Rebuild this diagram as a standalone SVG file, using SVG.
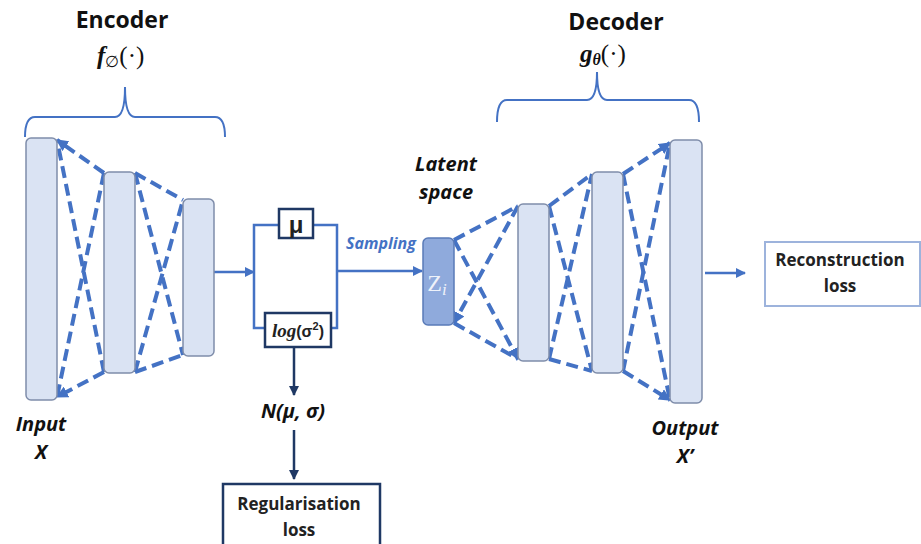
<svg xmlns="http://www.w3.org/2000/svg" width="921" height="544" viewBox="0 0 921 544">
<defs>
<style>
.layer{fill:#DAE3F3;stroke:#7F8DAA;stroke-width:1.5}
.dash{stroke:#4472C4;stroke-width:4;stroke-dasharray:12 6;fill:none}
.brace{stroke:#4472C4;stroke-width:2;fill:none}
.flow{stroke:#4472C4;stroke-width:2.5;fill:none}
.navy{stroke:#1F3864;stroke-width:2.5;fill:none}
.title{font-family:"Open Sans","Liberation Sans",sans-serif;font-weight:bold;font-size:23px;fill:#111;text-anchor:middle}
.lbl{font-family:"Open Sans","Liberation Sans",sans-serif;font-weight:bold;font-style:italic;font-size:20px;fill:#111;text-anchor:middle}
.box{font-family:"Open Sans","Liberation Sans",sans-serif;font-weight:bold;font-size:17px;fill:#222;text-anchor:middle}
.math{font-family:"Liberation Serif","DejaVu Serif",serif;font-size:25px;fill:#111}
</style>
<marker id="ab" viewBox="0 0 10 10" refX="9" refY="5" markerWidth="4" markerHeight="4" orient="auto"><path d="M0,0 L10,5 L0,10 z" fill="#4472C4"/></marker>
<marker id="an" viewBox="0 0 10 10" refX="9" refY="5" markerWidth="4" markerHeight="4" orient="auto"><path d="M0,0 L10,5 L0,10 z" fill="#1F3864"/></marker>
<marker id="ad" viewBox="0 0 10 10" refX="9" refY="5" markerWidth="3" markerHeight="3" orient="auto"><path d="M0,0 L10,5 L0,10 z" fill="#4472C4"/></marker>
</defs>
<rect width="921" height="544" fill="#fff"/>

<g id="encoder-title">
<text class="title" x="122" y="28">Encoder</text>
<text class="math" x="97" y="64"><tspan font-style="italic" font-weight="bold">f</tspan><tspan font-size="16" dy="3">∅</tspan><tspan dy="-3">(·)</tspan></text>
<path class="brace" d="M25,137 Q25,117 35,117 L115,117 Q125,117 125,87 Q125,117 135,117 L215,117 Q225,117 225,137"/>
</g>
<g id="decoder-title">
<text class="title" x="616" y="30">Decoder</text>
<text class="math" x="580" y="62"><tspan font-style="italic" font-weight="bold">g</tspan><tspan font-size="16" dy="3" font-style="italic" font-weight="bold">θ</tspan><tspan dy="-3">(·)</tspan></text>
<path class="brace" d="M497,122 Q497,100 507,100 L587,100 Q597,100 597,72 Q597,100 607,100 L689,100 Q699,100 699,122"/>
</g>

<g id="connectors">
<line class="dash" x1="104" y1="173" x2="57" y2="140" marker-end="url(#ad)"/>
<line class="dash" x1="104" y1="372" x2="57" y2="140"/>
<line class="dash" x1="104" y1="173" x2="57" y2="397"/>
<line class="dash" x1="104" y1="372" x2="57" y2="397" marker-end="url(#ad)"/>
<line class="dash" x1="135" y1="173" x2="183" y2="200"/>
<line class="dash" x1="135" y1="173" x2="183" y2="355"/>
<line class="dash" x1="135" y1="372" x2="183" y2="200"/>
<line class="dash" x1="135" y1="372" x2="183" y2="355"/>
<line class="dash" x1="454" y1="240" x2="518" y2="206"/>
<line class="dash" x1="454" y1="240" x2="518" y2="359" marker-end="url(#ad)"/>
<line class="dash" x1="518" y1="206" x2="454" y2="323" marker-end="url(#ad)"/>
<line class="dash" x1="454" y1="323" x2="518" y2="359"/>
<line class="dash" x1="549" y1="206" x2="592" y2="174"/>
<line class="dash" x1="549" y1="206" x2="592" y2="371"/>
<line class="dash" x1="549" y1="359" x2="592" y2="174"/>
<line class="dash" x1="549" y1="359" x2="592" y2="371"/>
<line class="dash" x1="623" y1="174" x2="670" y2="143" marker-end="url(#ad)"/>
<line class="dash" x1="623" y1="174" x2="670" y2="400"/>
<line class="dash" x1="623" y1="371" x2="670" y2="143"/>
<line class="dash" x1="623" y1="371" x2="670" y2="400" marker-end="url(#ad)"/>
<line class="flow" x1="214" y1="272" x2="254" y2="272" marker-end="url(#ab)"/>
<path class="flow" d="M279,225 L254,225 L254,328 L265,328"/>
<path class="flow" d="M313,225 L337,225 L337,328 L331,328"/>
<line class="flow" x1="337" y1="271" x2="422" y2="271" marker-end="url(#ab)"/>
<line class="flow" x1="705" y1="273" x2="745" y2="273" marker-end="url(#ab)"/>
<line class="navy" x1="294" y1="347" x2="294" y2="395" marker-end="url(#an)"/>
<line class="navy" x1="294" y1="430" x2="294" y2="479" marker-end="url(#an)"/>
</g>

<g id="enc-l1"><rect class="layer" x="26" y="138" width="31" height="262" rx="5"/></g>
<g id="enc-l2"><rect class="layer" x="104" y="172" width="31" height="201" rx="5"/></g>
<g id="enc-l3"><rect class="layer" x="183" y="199" width="31" height="157" rx="5"/></g>
<g id="dec-l1"><rect class="layer" x="518" y="204" width="31" height="157" rx="5"/></g>
<g id="dec-l2"><rect class="layer" x="592" y="172" width="31" height="201" rx="5"/></g>
<g id="dec-l3"><rect class="layer" x="670" y="140" width="32" height="263" rx="5"/></g>

<g id="mu">
<rect x="279" y="209" width="34" height="29" fill="#fff" stroke="#1F3864" stroke-width="2.5"/>
<text x="296" y="233" font-family="Liberation Sans,sans-serif" font-weight="bold" font-size="24" text-anchor="middle" fill="#222">μ</text>
</g>
<g id="logvar">
<rect x="265" y="313" width="66" height="34" fill="#fff" stroke="#1F3864" stroke-width="2.5"/>
<text x="298" y="337" font-family="Liberation Serif,serif" font-size="19" text-anchor="middle" fill="#222"><tspan font-style="italic" font-weight="bold">log</tspan><tspan font-family="Liberation Sans,sans-serif" font-weight="bold" font-size="16">(σ</tspan><tspan font-family="Liberation Sans,sans-serif" font-weight="bold" font-size="11" dy="-7">2</tspan><tspan font-family="Liberation Sans,sans-serif" font-weight="bold" font-size="16" dy="7">)</tspan></text>
</g>
<g id="sampling"><text x="381" y="249" font-family="Open Sans,Liberation Sans,sans-serif" font-style="italic" font-weight="bold" font-size="16" fill="#4472C4" text-anchor="middle">Sampling</text></g>

<g id="latent">
<text class="lbl" x="446" y="171">Latent</text>
<text class="lbl" x="446" y="199">space</text>
<rect x="423" y="238" width="31" height="87" rx="5" fill="#8FAADC" stroke="#5A7BB8" stroke-width="1.5"/>
<text x="437" y="291" font-family="Liberation Serif,serif" font-size="24" fill="#EEF2FA" text-anchor="middle">Z<tspan font-style="italic" font-size="17" dy="4">i</tspan></text>
</g>

<g id="input-label">
<text class="lbl" x="41" y="431">Input</text>
<text class="lbl" x="41" y="459">X</text>
</g>
<g id="output-label">
<text class="lbl" x="685" y="435">Output</text>
<text class="lbl" x="685" y="463">X’</text>
</g>

<g id="normal"><text class="lbl" x="293" y="418" font-size="19">N(μ, σ)</text></g>

<g id="recon">
<rect x="765" y="242" width="155" height="64" fill="#fff" stroke="#9DB3DC" stroke-width="2"/>
<text class="box" x="840" y="266">Reconstruction</text>
<text class="box" x="840" y="292">loss</text>
</g>
<g id="reg">
<rect x="223" y="484" width="157" height="70" fill="#fff" stroke="#1F3864" stroke-width="2.5"/>
<text class="box" x="299" y="510">Regularisation</text>
<text class="box" x="299" y="536">loss</text>
</g>
</svg>
